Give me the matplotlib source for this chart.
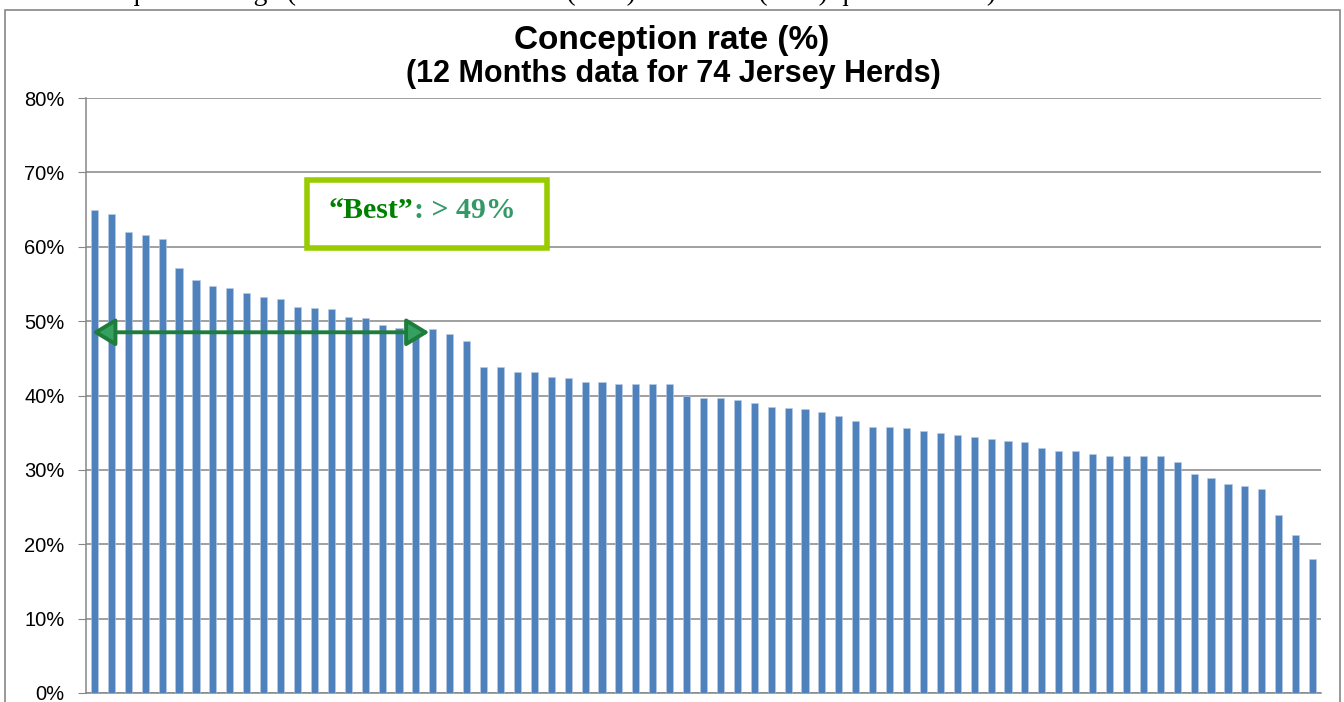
import matplotlib
matplotlib.use("Agg")
import matplotlib.pyplot as plt
from matplotlib.patches import Rectangle
from matplotlib.ticker import MultipleLocator, PercentFormatter

# conception rate per herd (%), sorted high to low
herd_rates = [64.9, 64.4, 62.0, 61.6, 61.1, 57.2, 55.5, 54.7, 54.5, 53.8,
              53.2, 53.0, 51.9, 51.8, 51.6, 50.5, 50.4, 49.5, 49.1, 49.0,
              48.9, 48.3, 47.3, 43.8, 43.8, 43.2, 43.2, 42.5, 42.3, 41.8,
              41.8, 41.5, 41.5, 41.5, 41.5, 39.9, 39.6, 39.6, 39.4, 39.0,
              38.4, 38.3, 38.2, 37.8, 37.3, 36.6, 35.8, 35.8, 35.6, 35.2,
              34.9, 34.7, 34.4, 34.1, 33.9, 33.8, 32.9, 32.5, 32.5, 32.1,
              31.9, 31.9, 31.9, 31.8, 31.1, 29.5, 28.9, 28.1, 27.8, 27.4,
              23.9, 21.2, 18.0]
herds = list(range(len(herd_rates)))

title_main = "Conception rate (%)"
title_sub = "(12 Months data for 74 Jersey Herds)"
best_label = "\u201cBest\u201d"
best_value = ": > 49%"
best_cutoff = 48.5
doc_line = ("interquartile range (difference between best (25%) and worst (25%) "
            "quartile herds). The")

W, H = 1344, 702
fig = plt.figure(figsize=(W / 100, H / 100), dpi=100)
plt.rcParams['font.family'] = ['Liberation Sans', 'DejaVu Sans']


def fx(px):
    return px / W


def fy(py):
    return 1 - py / H


grey = '#868686'

# line of document text cut off above the chart
fig.text(fx(75), fy(0.5), doc_line, fontsize=20, family='Liberation Serif',
         ha='left', va='baseline')

# chart area border
fig.patches.append(Rectangle((fx(5), fy(710)), fx(1335), (710 - 10) / H,
                             transform=fig.transFigure, fill=False,
                             edgecolor=grey, lw=1.2))

ax = fig.add_axes([fx(86), fy(693), fx(1321 - 86), (693 - 98) / H])
ax.bar(herds, herd_rates, width=0.42, color='#4F81BD', edgecolor='#b9cde5',
       linewidth=0.4, zorder=3)

ax.set_xlim(-0.5, len(herd_rates) - 0.5)
ax.set_ylim(0, 80)
ax.yaxis.set_major_locator(MultipleLocator(10))
ax.yaxis.set_major_formatter(PercentFormatter(100, decimals=0))
ax.grid(axis='y', color=grey, lw=1.1, zorder=0)
ax.set_xticks([])
for s in ['top', 'right']:
    ax.spines[s].set_visible(False)
for s in ['left', 'bottom']:
    ax.spines[s].set_color(grey)
    ax.spines[s].set_linewidth(1.1)
ax.tick_params(axis='y', length=5.5, color=grey, pad=10, labelsize=14.5)

# titles
fig.text(fx(672), fy(49.5), title_main, fontsize=24, fontweight='bold',
         ha='center', va='baseline')
fig.text(fx(673), fy(82), title_sub, fontsize=22, fontweight='bold',
         ha='center', va='baseline')

# "best" range arrow
ax.annotate('', xy=(-0.13, best_cutoff), xytext=(19.79, best_cutoff),
            arrowprops=dict(arrowstyle='<|-|>,head_length=1.4,head_width=0.85',
                            mutation_scale=10, shrinkA=0, shrinkB=0,
                            fc='#35a060', ec='#1f7d3c', lw=2.8),
            zorder=5)

# label box
fig.patches.append(Rectangle((fx(307), fy(248)), fx(240), (248 - 180) / H,
                             transform=fig.transFigure, facecolor='white',
                             edgecolor='#99CC00', lw=4, zorder=6))
t1 = fig.text(fx(329), fy(218), best_label, fontsize=21.5, fontweight='bold',
              family='Liberation Serif', color='#008000', ha='left',
              va='baseline', zorder=7)
fig.canvas.draw()
bb = t1.get_window_extent()
fig.text(bb.x1 / W, fy(218), best_value, fontsize=21.5, fontweight='bold',
         family='Liberation Serif', color='#339966', ha='left',
         va='baseline', zorder=7)

fig.savefig("out.png", dpi=100)
